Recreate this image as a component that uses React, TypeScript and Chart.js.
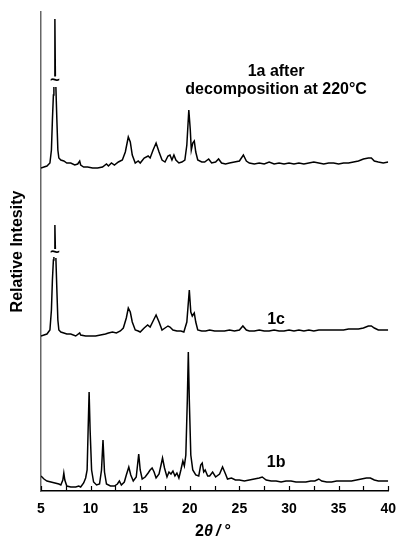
import React, { useEffect, useRef } from "react";
import { Chart, registerables } from "chart.js";

Chart.register(...registerables);

// 2θ positions (degrees) and relative intensities (arbitrary units) for each pattern.
// null marks the axis-break in the truncated low-angle peak.
const twoTheta1a = [5.0, 5.3, 5.6, 5.9, 6.05, 6.15, 6.25, 6.3, 6.33, 6.35, 6.4, 6.45, 6.47, 6.5, 6.6, 6.7, 6.8, 7.0, 7.3, 7.6, 8.0, 8.4, 8.7, 8.9, 9.0, 9.3, 9.7, 10.2, 10.7, 11.2, 11.6, 11.8, 12.1, 12.4, 12.8, 13.2, 13.5, 13.8, 14.0, 14.2, 14.5, 14.8, 15.0, 15.4, 15.8, 16.0, 16.3, 16.6, 16.9, 17.2, 17.5, 17.8, 18.0, 18.2, 18.4, 18.6, 18.9, 19.2, 19.5, 19.7, 19.9, 20.05, 20.15, 20.3, 20.45, 20.6, 20.8, 21.2, 21.5, 21.9, 22.2, 22.6, 22.9, 23.2, 23.6, 24.0, 24.5, 25.0, 25.4, 25.7, 26.0, 26.5, 27.0, 27.5, 28.0, 28.5, 29.0, 29.5, 30.0, 30.5, 31.0, 31.5, 32.0, 32.5, 33.0, 33.5, 34.0, 34.5, 35.0, 35.5, 36.0, 36.5, 37.0, 37.5, 38.0, 38.3, 38.6, 39.0, 39.5, 40.0];
const intensity1a = [5, 6, 7, 10, 23, 53, 78, 86, null, 97, 154, 97, null, 86, 53, 23, 15, 13, 12, 10, 10, 8, 9, 12, 8, 6, 6, 5, 5, 6, 9, 7, 10, 8, 11, 13, 21, 36, 31, 18, 10, 12, 10, 15, 17, 15, 23, 30, 21, 13, 11, 17, 18, 13, 18, 13, 10, 11, 13, 28, 63, 43, 23, 30, 32, 21, 13, 11, 11, 14, 10, 11, 14, 10, 9, 10, 11, 12, 18, 12, 10, 9, 10, 9, 11, 9, 10, 9, 10, 9, 10, 9, 10, 11, 10, 9, 10, 10, 9, 10, 10, 11, 12, 14, 15, 15, 12, 11, 10, 11];

const twoTheta1c = [5.0, 5.3, 5.6, 5.9, 6.05, 6.15, 6.25, 6.3, 6.33, 6.35, 6.4, 6.45, 6.47, 6.5, 6.6, 6.7, 6.8, 7.0, 7.3, 7.6, 8.0, 8.5, 8.9, 9.0, 9.5, 10.0, 10.5, 11.0, 11.5, 11.8, 12.2, 12.6, 13.0, 13.3, 13.6, 13.8, 14.0, 14.2, 14.5, 14.8, 15.0, 15.4, 15.75, 16.0, 16.3, 16.6, 16.9, 17.2, 17.5, 17.8, 18.0, 18.3, 18.7, 19.1, 19.4, 19.7, 19.95, 20.1, 20.25, 20.45, 20.6, 20.8, 21.2, 21.6, 22.0, 22.5, 23.0, 23.5, 24.0, 24.5, 25.0, 25.35, 25.7, 26.0, 26.5, 27.0, 27.5, 28.0, 28.5, 29.0, 29.5, 30.0, 30.5, 31.0, 31.5, 32.0, 32.5, 33.0, 33.5, 34.0, 34.5, 35.0, 35.5, 36.0, 36.5, 37.0, 37.5, 38.0, 38.3, 38.6, 39.0, 39.5, 40.0];
const intensity1c = [5, 6, 7, 11, 31, 61, 81, 84, null, 92, 116, 92, null, 83, 51, 21, 11, 9, 8, 7, 7, 5, 8, 6, 5, 5, 5, 6, 7, 8, 9, 8, 10, 13, 23, 33, 29, 19, 11, 10, 9, 13, 16, 14, 20, 26, 19, 11, 13, 15, 14, 11, 10, 10, 9, 19, 51, 29, 25, 28, 19, 11, 10, 10, 11, 10, 10, 10, 11, 10, 11, 15, 11, 10, 10, 11, 10, 10, 11, 10, 10, 11, 10, 11, 10, 11, 10, 11, 11, 11, 11, 11, 11, 12, 12, 12, 13, 15, 15, 13, 11, 11, 11];

const twoTheta1b = [5.0, 5.3, 5.6, 6.0, 6.4, 6.8, 7.0, 7.2, 7.3, 7.4, 7.6, 8.0, 8.5, 8.8, 9.0, 9.3, 9.5, 9.65, 9.75, 9.85, 9.95, 10.1, 10.3, 10.6, 10.9, 11.1, 11.25, 11.4, 11.6, 12.0, 12.4, 12.7, 12.9, 13.1, 13.4, 13.6, 13.85, 14.05, 14.3, 14.6, 14.85, 15.0, 15.2, 15.5, 15.8, 16.0, 16.2, 16.4, 16.6, 16.9, 17.1, 17.25, 17.45, 17.7, 17.9, 18.1, 18.3, 18.5, 18.7, 18.9, 19.1, 19.3, 19.45, 19.6, 19.75, 19.85, 19.95, 20.1, 20.3, 20.6, 20.9, 21.1, 21.25, 21.4, 21.55, 21.8, 22.0, 22.3, 22.6, 23.0, 23.3, 23.6, 23.8, 24.2, 24.6, 25.0, 25.5, 26.0, 26.5, 27.0, 27.3, 27.7, 28.2, 28.7, 29.2, 29.7, 30.2, 30.7, 31.2, 31.7, 32.2, 32.6, 33.0, 33.3, 33.8, 34.3, 34.8, 35.3, 35.8, 36.3, 36.8, 37.3, 37.8, 38.2, 38.6, 39.0, 39.5, 40.0];
const intensity1b = [15, 12, 10, 9, 8, 7, 6, 11, 18, 11, 5, 4, 4, 5, 4, 8, 13, 21, 61, 99, 61, 21, 9, 6, 7, 21, 51, 19, 7, 5, 5, 7, 10, 6, 9, 16, 24, 16, 10, 14, 37, 21, 12, 14, 18, 21, 23, 19, 13, 17, 26, 33, 23, 14, 19, 17, 20, 15, 18, 13, 21, 30, 25, 36, 91, 139, 91, 36, 21, 16, 15, 26, 28, 19, 21, 15, 15, 19, 14, 17, 24, 17, 12, 13, 11, 11, 10, 11, 12, 13, 14, 11, 10, 10, 9, 10, 10, 9, 9, 9, 10, 10, 12, 10, 9, 9, 10, 10, 10, 10, 11, 12, 13, 13, 11, 10, 10, 10];

// vertical stacking offsets of the patterns
const offset1a = 318;
const offset1b = 0;
const offset1c = 150;

const xTicks = [5, 10, 15, 20, 25, 30, 35, 40];

// axis-break marks (2θ, intensity incl. offset)
const breakMarks = [
  { x: 6.4, y: offset1a + 93 },
  { x: 6.4, y: offset1c + 89 },
];

// curve labels (2θ, intensity incl. offset)
const curveLabels = [
  { text: "1a after", x: 28.7, y: 419 },
  { text: "decomposition at 220°C", x: 28.7, y: 401 },
  { text: "1c", x: 28.7, y: 171 },
  { text: "1b", x: 28.7, y: 28 },
];

const FONT = "'Liberation Sans', Arial, Helvetica, sans-serif";

function series(xs: number[], ys: (number | null)[], off: number) {
  return xs.map((x, i) => ({ x, y: ys[i] === null ? null : (ys[i] as number) + off }));
}

const decorPlugin = {
  id: "decor",
  afterDraw(chart: any) {
    const ctx = chart.ctx as CanvasRenderingContext2D;
    const xs = chart.scales.x;
    const ys = chart.scales.y;
    const area = chart.chartArea;
    ctx.save();
    // inward tick marks every 2.5°
    ctx.strokeStyle = "#000";
    ctx.lineWidth = 1.2;
    for (let v = 5; v <= 40.001; v += 2.5) {
      const px = Math.round(xs.getPixelForValue(v)) + 0.5;
      ctx.beginPath();
      ctx.moveTo(px, area.bottom);
      ctx.lineTo(px, area.bottom - 5);
      ctx.stroke();
    }
    // break marks
    ctx.textAlign = "center";
    ctx.textBaseline = "middle";
    ctx.font = `bold 17px ${FONT}`;
    for (const b of breakMarks) {
      const px = xs.getPixelForValue(b.x);
      const py = ys.getPixelForValue(b.y);
      ctx.fillStyle = "#fff";
      ctx.fillRect(px - 5, py - 3, 10, 6);
      ctx.fillStyle = "#000";
      ctx.fillText("~", px, py);
    }
    // curve labels
    ctx.fillStyle = "#000";
    ctx.font = `bold 16px ${FONT}`;
    for (const l of curveLabels) {
      ctx.fillText(l.text, xs.getPixelForValue(l.x), ys.getPixelForValue(l.y));
    }
    // x-axis title: 2θ/°
    const cx = (area.left + area.right) / 2 - 2;
    const ty = 532;
    ctx.textAlign = "left";
    ctx.textBaseline = "middle";
    const f1 = `bold 16px ${FONT}`;
    const f2 = `italic bold 16px ${FONT}`;
    ctx.font = f1;
    const w1 = ctx.measureText("2").width;
    ctx.font = f2;
    const rest = "θ\u2009/\u2009°";
    const w2 = ctx.measureText(rest).width;
    const start = cx - (w1 + w2) / 2;
    ctx.font = f1;
    ctx.fillText("2", start, ty);
    ctx.font = f2;
    ctx.fillText(rest, start + w1, ty);
    ctx.restore();
  },
};

export default function App() {
  const ref = useRef<HTMLCanvasElement | null>(null);
  useEffect(() => {
    if (!ref.current) return;
    const ds = (data: any[]) => ({
      data,
      borderColor: "#000",
      borderWidth: 1.5,
      pointRadius: 0,
      tension: 0,
      spanGaps: false,
      fill: false,
    });
    const chart = new Chart(ref.current, {
      type: "line",
      data: {
        datasets: [
          ds(series(twoTheta1a, intensity1a, offset1a)),
          ds(series(twoTheta1c, intensity1c, offset1c)),
          ds(series(twoTheta1b, intensity1b, offset1b)),
        ],
      },
      options: {
        animation: false,
        responsive: false,
        devicePixelRatio: 1,
        parsing: false as any,
        normalized: true,
        layout: { padding: { top: 12, right: 9, left: 0, bottom: 0 } },
        plugins: { legend: { display: false }, tooltip: { enabled: false } },
        scales: {
          x: {
            type: "linear",
            min: 5,
            max: 40,
            afterBuildTicks: (scale: any) => {
              scale.ticks = xTicks.map((v) => ({ value: v }));
            },
            afterFit: (scale: any) => {
              scale.height = 48;
            },
            ticks: {
              color: "#000",
              font: { family: FONT, size: 14, weight: "bold" },
              padding: 10,
              maxRotation: 0,
              autoSkip: false,
            },
            grid: { display: true, drawOnChartArea: false, drawTicks: false },
            border: { display: true, color: "#000", width: 1.5 },
          },
          y: {
            type: "linear",
            min: 0,
            max: 479,
            afterFit: (scale: any) => {
              scale.width = 41;
            },
            ticks: { display: false },
            grid: { display: true, drawOnChartArea: false, drawTicks: false },
            border: { display: true, color: "#666", width: 1.5 },
            title: {
              display: true,
              text: "Relative Intesity",
              color: "#000",
              font: { family: FONT, size: 16, weight: "bold" },
              padding: { top: 8, bottom: 0 },
            },
          },
        },
      },
      plugins: [decorPlugin],
    });
    return () => chart.destroy();
  }, []);
  return (
    <div style={{ position: "absolute", left: 0, top: 0, width: 406, height: 539, background: "#fff" }}>
      <canvas ref={ref} width={406} height={539} style={{ display: "block" }} />
    </div>
  );
}
